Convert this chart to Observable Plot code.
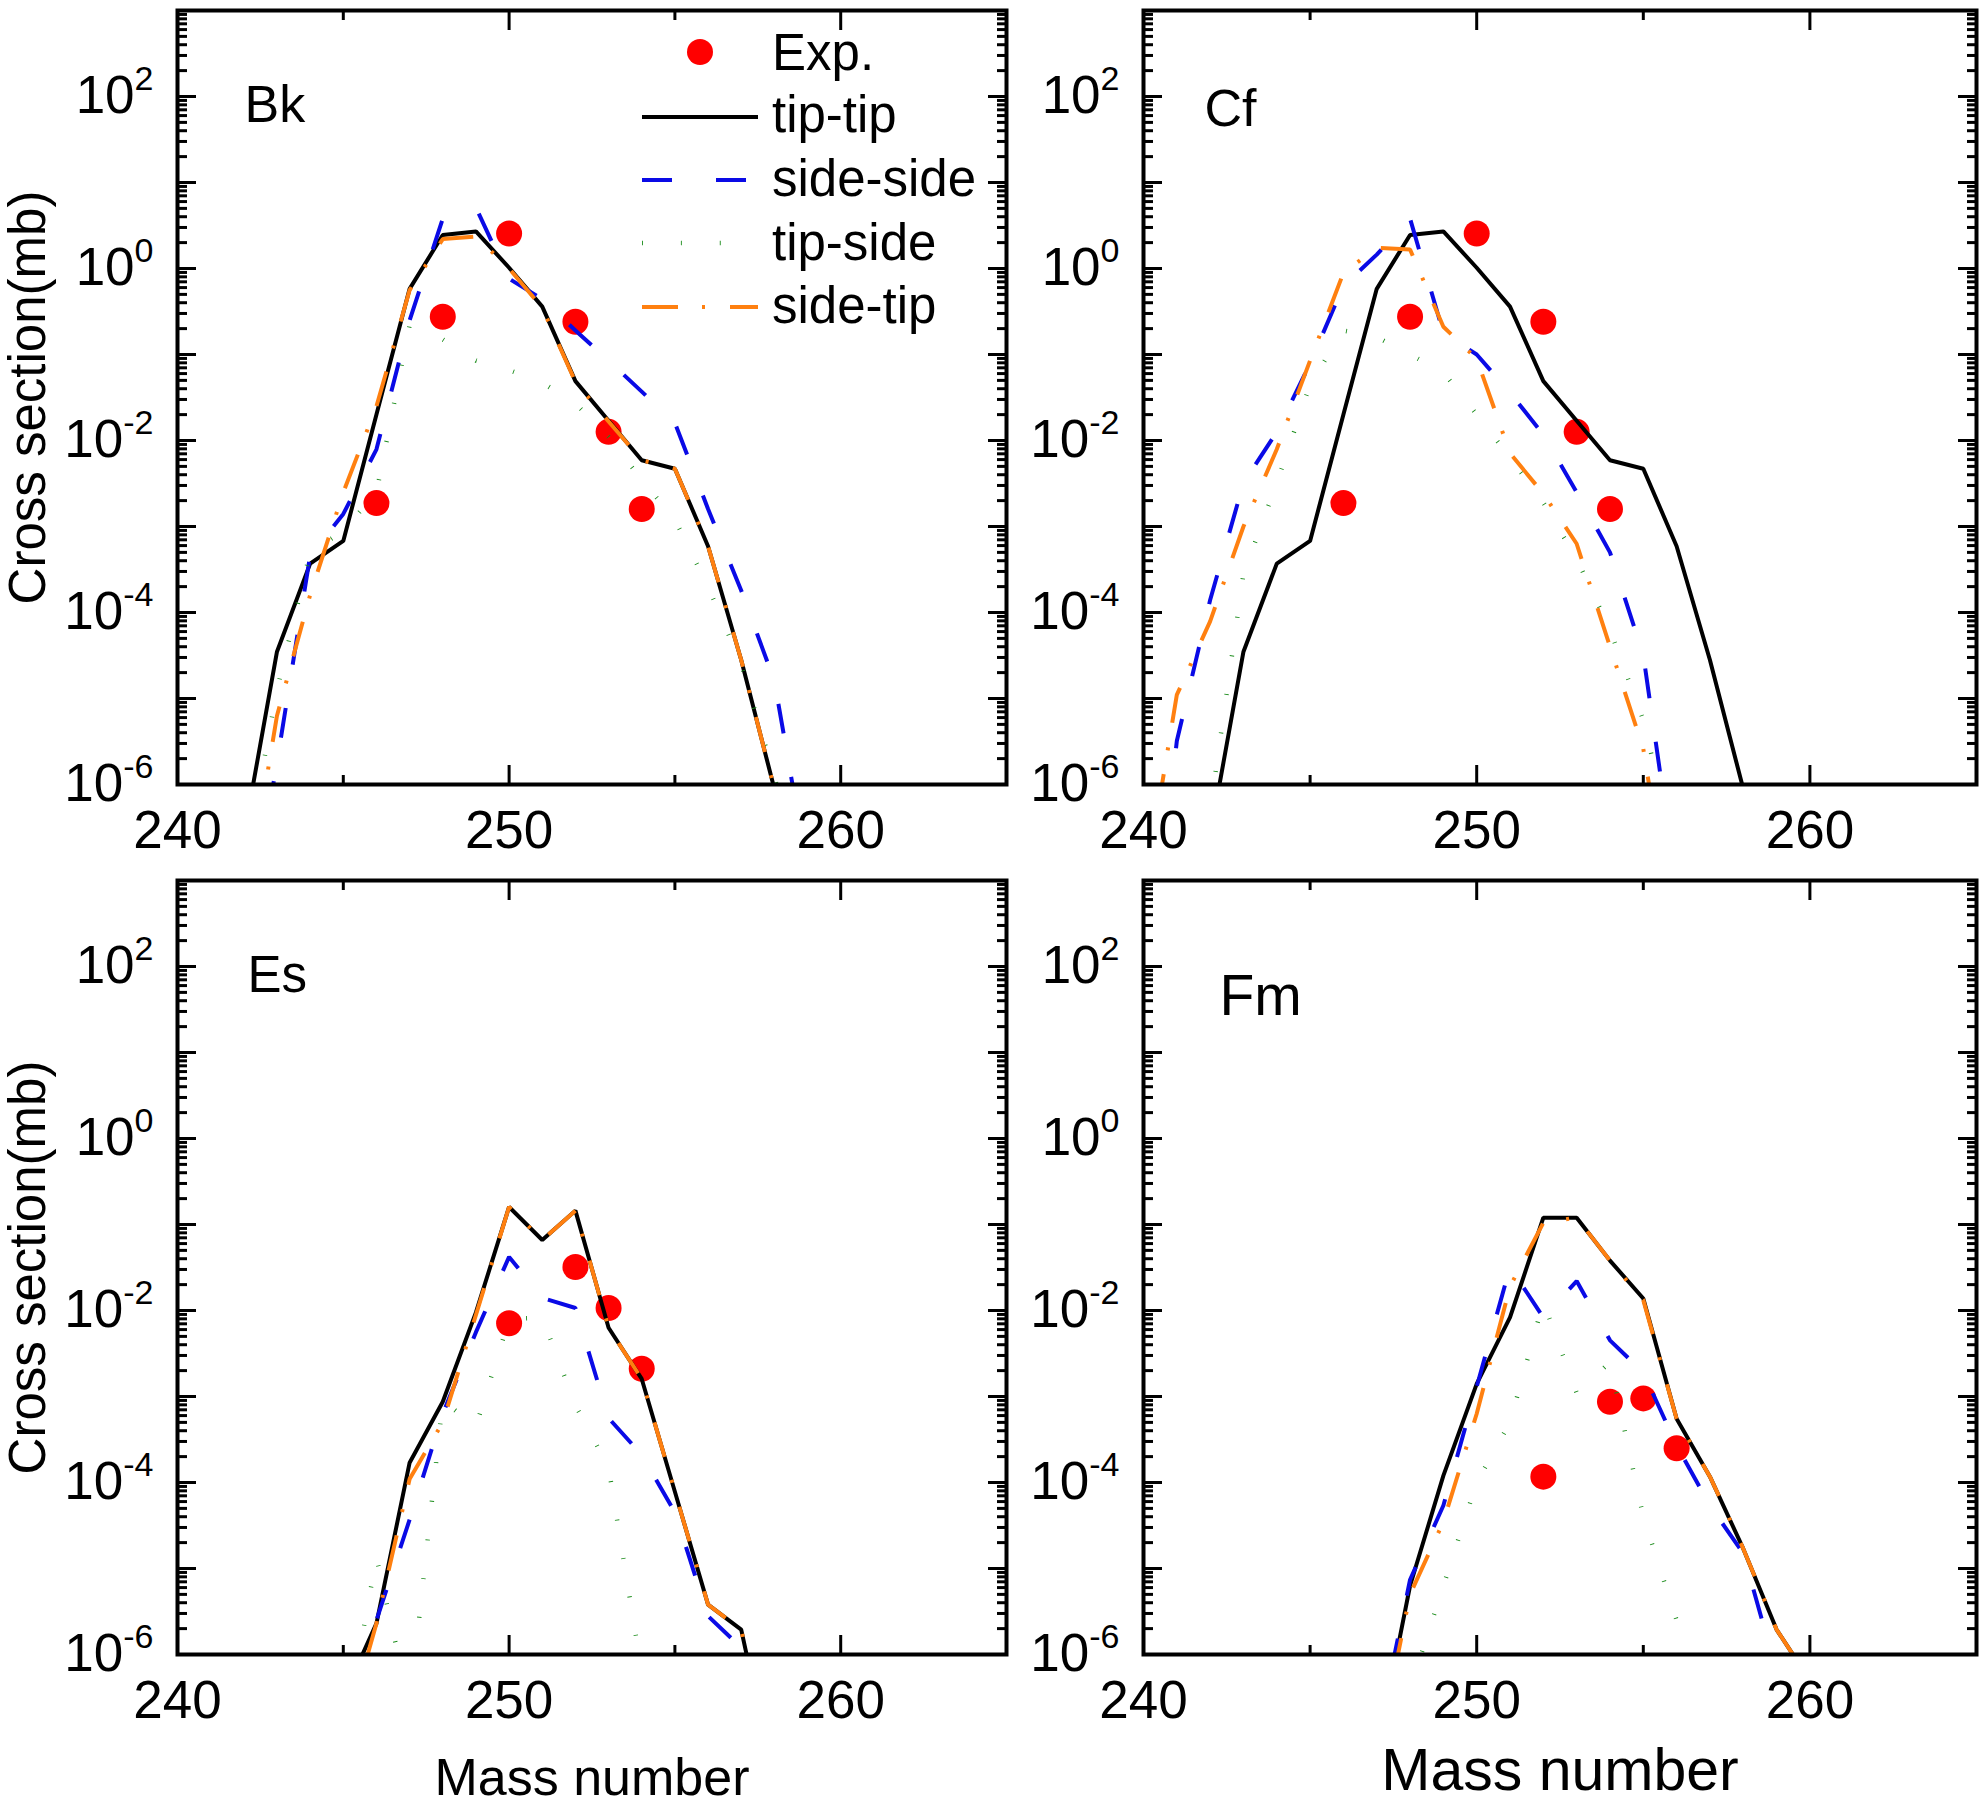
<!DOCTYPE html>
<html><head><meta charset="utf-8">
<script src="https://cdn.jsdelivr.net/npm/d3@7"></script>
<script src="https://cdn.jsdelivr.net/npm/@observablehq/plot@0.6"></script>
<style>
html,body{margin:0;padding:0;background:#fff;}
#chart{position:relative;width:1980px;height:1806px;overflow:hidden;font-family:"Liberation Sans",Arial,sans-serif;background:#fff;}
#chart svg{position:absolute;overflow:visible;}
</style></head><body><div id="chart"></div>
<script>
// ---------- data (cross sections in mb) ----------
const bkMass     = [242,243,244,245,246,247,248,249,250,251,252,253,254,255,256,257,258,259];
const bkTipTip   = [2.5e-7,3.5e-5,3.7e-4,6.8e-4,0.020,0.58,2.45,2.7,1.02,0.36,0.049,0.017,5.9e-3,4.7e-3,5.9e-4,2.8e-5,8.9e-7,null];
const bkSideSide = [1e-8,1.8e-6,4.6e-4,1.4e-3,7.9e-3,0.25,3.8,5.1,0.76,0.44,0.19,0.085,0.037,0.016,1.6e-3,1.8e-4,1.6e-5,1e-7];
const bkTipSide  = [1e-7,1.26e-5,5e-4,8.9e-4,2.5e-3,0.22,0.15,0.085,0.066,0.047,0.027,0.011,3.5e-3,1.2e-3,2e-4,2.5e-5,1.26e-6,3e-8];
const bkSideTip  = [3e-8,6.3e-6,1.6e-4,2.5e-3,0.025,0.56,2.2,2.35,1.0,0.35,0.048,0.0166,5.9e-3,4.7e-3,5.9e-4,2.8e-5,8.9e-7,null];
const bkExpMass  = [246,248,250,252,253,254];
const bkExp      = [1.87e-3,0.275,2.55,0.24,0.0126,1.6e-3];

const cfMass     = [240,241,242,243,244,245,246,247,248,249,250,251,252,253,254,255,256,257,258];
const cfTipTip   = [null,null,2.5e-7,3.5e-5,3.7e-4,6.8e-4,0.020,0.58,2.45,2.7,1.02,0.36,0.049,0.017,5.9e-3,4.7e-3,5.9e-4,2.8e-5,8.9e-7];
const cfSideSide = [1e-9,3.2e-6,1.4e-4,3.2e-3,0.0126,0.079,0.63,1.45,3.8,0.178,0.1,0.036,0.0117,2.5e-3,5e-4,3.2e-5,6.3e-8,null,null];
const cfTipSide  = [null,null,5e-7,2.8e-4,3.2e-3,0.045,0.19,0.16,0.10,0.062,0.02,6.3e-3,1.9e-3,4.2e-4,6.3e-5,5.6e-6,1.26e-7,null,null];
const cfSideTip  = [5e-8,1.1e-5,7.9e-5,1e-3,7.9e-3,0.085,0.89,1.74,1.66,0.21,0.089,7.1e-3,2.4e-3,6.3e-4,4e-5,2.6e-6,1e-8,null,null];
const cfExpMass  = [246,248,250,252,253,254];
const cfExp      = [1.87e-3,0.275,2.55,0.24,0.0126,1.6e-3];

const esMass     = [245,246,247,248,249,250,251,252,253,254,255,256,257,258];
const esTipTip   = [3.2e-7,2.3e-6,1.7e-4,8.7e-4,9.5e-3,0.16,0.066,0.145,6.3e-3,1.6e-3,7.8e-5,3.8e-6,1.95e-6,3.2e-8];
const esSideSide = [1e-9,2.5e-6,3.7e-5,6.3e-4,5.6e-3,0.042,0.014,0.0107,5.6e-4,2.1e-4,4.5e-5,2.8e-6,1.2e-6,3e-8];
const esTipSide  = [1e-7,1.35e-5,2.5e-7,8.9e-4,4.5e-4,7.9e-3,8.3e-3,7.9e-4,1.5e-4,6.3e-7,null,null,null,null];
const esSideTip  = [1e-7,2.3e-6,1.1e-4,5e-4,8.9e-3,0.16,0.066,0.145,6.3e-3,1.6e-3,7.8e-5,3.8e-6,1.95e-6,3.2e-8];
const esExpMass  = [250,252,253,254];
const esExp      = [7.1e-3,0.032,0.0107,2.1e-3];

const fmMass     = [247,248,249,250,251,252,253,254,255,256,257,258,259,260];
const fmTipTip   = [7e-8,6.3e-6,1.2e-4,1.4e-3,8.3e-3,0.12,0.12,0.038,0.0138,5.5e-4,1.17e-4,1.7e-5,1.95e-6,5e-7];
const fmSideSide = [1e-7,7.4e-6,5.4e-5,1.3e-3,0.032,8.3e-3,0.022,4.5e-3,1.9e-3,2.7e-4,5.4e-5,1.5e-5,6.3e-7,null];
const fmTipSide  = [null,4e-7,6.3e-6,1e-4,5e-4,0.0126,1.1e-3,2.5e-3,4e-5,2.5e-6,1e-8,null,null,null];
const fmSideTip  = [6e-8,5e-6,3.5e-5,6.3e-4,0.019,0.105,0.12,0.038,0.0132,5.5e-4,1.17e-4,1.7e-5,1.95e-6,5e-7];
const fmExpMass  = [252,254,255,256];
const fmExp      = [1.17e-4,8.7e-4,9.5e-4,2.5e-4];

// ---------- ticks / labels ----------
const xLabelTicks = [240,250,260];
const xMinorTicks = [245,255,265];
const yLabelTicks = [1e-6,1e-4,1e-2,1,1e2];
const yMajorTicks = [1e-6,1e-5,1e-4,1e-3,1e-2,1e-1,1,1e1,1e2,1e3];
const yMinorTicks = yMajorTicks.slice(0,-1).flatMap(d => [2,3,4,5,6,7,8,9].map(k => k*d));
const seriesNames = ["Exp.","tip-tip","side-side","tip-side","side-tip"];
const yTitle = "Cross section(mb)";
const xTitle = "Mass number";

// ---------- styles ----------
const sty = {
  tipTip:   {stroke:"#000000", strokeWidth:4},
  sideSide: {stroke:"#0a0ae6", strokeWidth:4, strokeDasharray:"30,44"},
  tipSide:  {stroke:"#1a8c1a", strokeWidth:4.5, strokeDasharray:"0.9,38"},
  sideTip:  {stroke:"#ff8010", strokeWidth:4, strokeDasharray:"36,24,3,25"}
};
const FONT = "'Liberation Sans', Arial, Helvetica, sans-serif";

function rows(mass, vals){ return mass.map((m,i)=>({m, v: vals[i]})); }

function panel(o){
  const marks = [
    Plot.dot(rows(o.expMass, o.exp), {x:"m", y:"v", r:13, fill:"#ff0000", stroke:"none"}),
  ];
  for (const key of ["tipTip","sideSide","tipSide","sideTip"]) {
    marks.push(Plot.line(rows(o.mass, o[key]), {x:"m", y:"v", clip:true, strokeLinecap:"butt", strokeLinejoin:"miter", ...sty[key]}));
  }
  const blank = () => "";
  for (const a of ["left","right"]) {
    marks.push(Plot.axisY({anchor:a, ticks:yMajorTicks, tickSize:-19, tickFormat:blank, strokeWidth:3, label:null}));
    marks.push(Plot.axisY({anchor:a, ticks:yMinorTicks, tickSize:-10, tickFormat:blank, strokeWidth:3, label:null}));
  }
  for (const a of ["bottom","top"]) {
    marks.push(Plot.axisX({anchor:a, ticks:xLabelTicks, tickSize:-19, tickFormat:blank, strokeWidth:3, label:null}));
    marks.push(Plot.axisX({anchor:a, ticks:xMinorTicks, tickSize:-9, tickFormat:blank, strokeWidth:3, label:null}));
  }
  marks.push(Plot.axisY({anchor:"left", ticks:yLabelTicks, tickSize:0, tickPadding:24, label:null, fontSize:53,
    tickFormat: d => "10^" + Math.round(Math.log10(d))}));
  marks.push(Plot.axisX({anchor:"bottom", ticks:xLabelTicks, tickSize:0, tickPadding:26, label:null, fontSize:53,
    tickFormat: d => String(d)}));
  marks.push(Plot.frame({stroke:"#000", strokeWidth:4}));
  marks.push(Plot.text([o.label], {text:d=>d, frameAnchor:"top-left", dx:o.labelDx, dy:o.labelDy, textAnchor:"start", lineAnchor:"top", fontSize:o.labelSize}));
  if (o.yTitle) marks.push(Plot.text([yTitle], {text:d=>d, frameAnchor:"left", rotate:-90, dx:o.yTitleDx, textAnchor:"middle", lineAnchor:"middle", fontSize:51}));
  if (o.xTitle) marks.push(Plot.text([xTitle], {text:d=>d, frameAnchor:"bottom", dy:o.xTitleDy, textAnchor:"middle", lineAnchor:"top", fontSize:o.xTitleSize}));

  const svg = Plot.plot({
    width:o.width, height:o.height,
    marginLeft:o.ml, marginRight:o.mr, marginTop:o.mt, marginBottom:o.mb,
    x:{domain:[240,265], label:null},
    y:{type:"log", domain:[1e-6,1e3], label:null},
    style:{fontFamily:FONT, fontSize:"51px", color:"#000", background:"transparent", overflow:"visible"},
    marks
  });
  // superscript exponents
  d3.select(svg).selectAll('g[aria-label="y-axis tick label"] text').each(function(){
    const t = this.textContent;
    if (!t.startsWith("10^")) return;
    const e = t.slice(3);
    const s = d3.select(this); s.text(null);
    s.append("tspan").text("10");
    s.append("tspan").attr("dy", -23).attr("font-size", 34).text(e);
  });
  svg.style.left = o.left + "px";
  svg.style.top = o.top + "px";
  document.getElementById("chart").appendChild(svg);
}

panel({left:0, top:0, width:1010, height:880, ml:177, mr:4, mt:10, mb:96,
  mass:bkMass, tipTip:bkTipTip, sideSide:bkSideSide, tipSide:bkTipSide, sideTip:bkSideTip, expMass:bkExpMass, exp:bkExp,
  label:"Bk", labelDx:67, labelDy:75, labelSize:52, yTitle:true, yTitleDx:-149});
panel({left:1010, top:0, width:970, height:880, ml:133, mr:4, mt:10, mb:96,
  mass:cfMass, tipTip:cfTipTip, sideSide:cfSideSide, tipSide:cfTipSide, sideTip:cfSideTip, expMass:cfExpMass, exp:cfExp,
  label:"Cf", labelDx:61, labelDy:79, labelSize:52});
panel({left:0, top:870, width:1010, height:936, ml:177, mr:4, mt:10, mb:152,
  mass:esMass, tipTip:esTipTip, sideSide:esSideSide, tipSide:esTipSide, sideTip:esSideTip, expMass:esExpMass, exp:esExp,
  label:"Es", labelDx:70, labelDy:75, labelSize:51, yTitle:true, yTitleDx:-149, xTitle:true, xTitleDy:104, xTitleSize:52});
panel({left:1010, top:870, width:970, height:936, ml:133, mr:4, mt:10, mb:152,
  mass:fmMass, tipTip:fmTipTip, sideSide:fmSideSide, tipSide:fmTipSide, sideTip:fmSideTip, expMass:fmExpMass, exp:fmExp,
  label:"Fm", labelDx:76, labelDy:94, labelSize:57, xTitle:true, xTitleDy:94, xTitleSize:59});

// ---------- legend (inside the Bk panel) ----------
const lg = d3.select("#chart").append("svg")
  .attr("width", 1010).attr("height", 360)
  .style("left","0px").style("top","0px").style("pointer-events","none");
const lgY = [52,117,180,243,307];
const lgBase = [70,132,196,260,323];
lg.append("circle").attr("cx",700).attr("cy",lgY[0]).attr("r",13).attr("fill","#ff0000");
const lgKeys = ["tipTip","sideSide","tipSide","sideTip"];
lgKeys.forEach((k,i)=>{
  const s = sty[k];
  lg.append("line").attr("x1",642).attr("x2",758).attr("y1",lgY[i+1]).attr("y2",lgY[i+1])
    .attr("stroke",s.stroke).attr("stroke-width",s.strokeWidth)
    .attr("stroke-dasharray",s.strokeDasharray||null).attr("stroke-linecap","butt");
});
seriesNames.forEach((n,i)=>{
  lg.append("text").attr("x",772).attr("y",lgBase[i]).attr("font-family",FONT).attr("font-size",51).attr("fill","#000").text(n);
});
</script>
</body></html>
